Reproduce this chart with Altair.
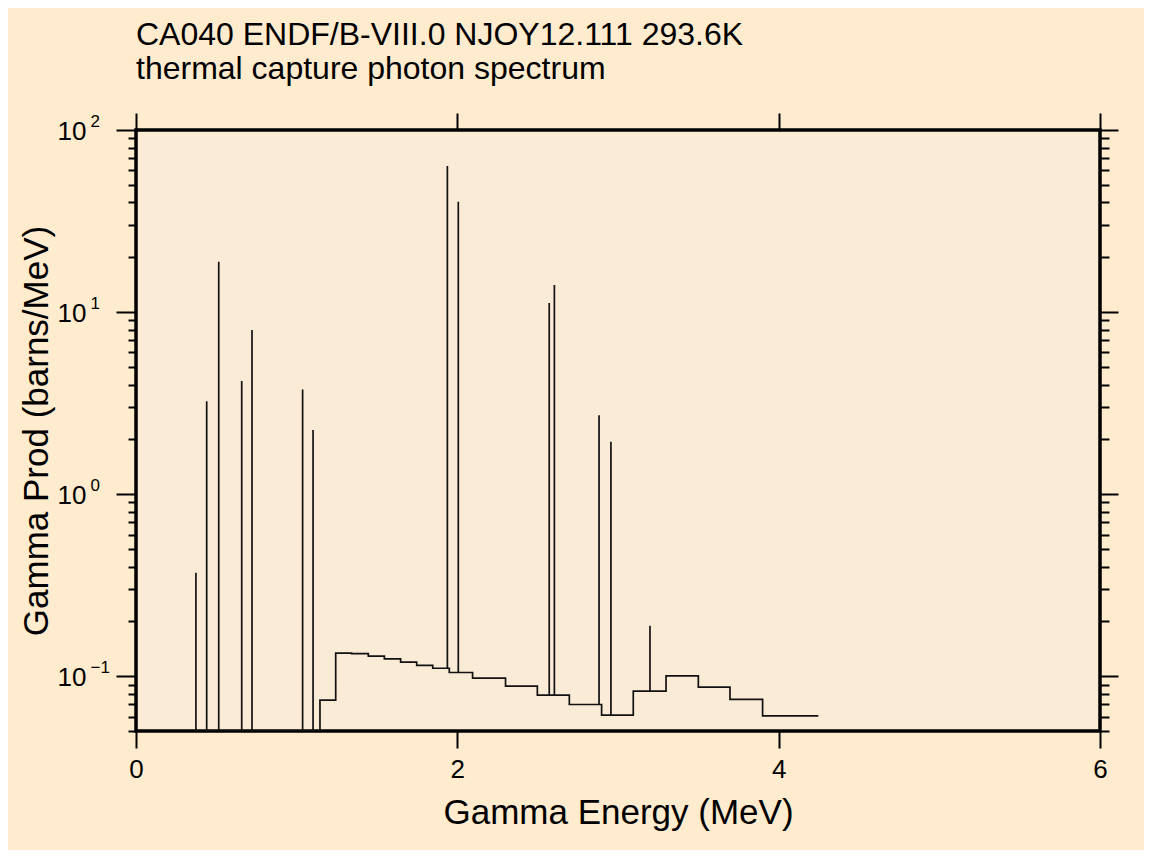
import altair as alt
import pandas as pd
import numpy as np

# discrete gamma lines: energy (MeV) and peak height (barns/MeV)
peak_E = [0.373, 0.440, 0.515, 0.658, 0.722, 1.037, 1.102, 1.938, 2.006,
          2.572, 2.604, 2.882, 2.956, 3.199]
peak_top = [0.37, 3.24, 18.9, 4.18, 7.96, 3.76, 2.25, 63.4, 40.4,
            11.2, 14.1, 2.71, 1.94, 0.189]

# continuum histogram: left edge energy and level (step-after)
cont_E = [0.373, 1.145, 1.243, 1.342, 1.446, 1.546, 1.647, 1.747, 1.847,
          1.950, 2.095, 2.300, 2.498, 2.697, 2.898, 3.095, 3.299, 3.500,
          3.697, 3.900, 4.247]
cont_val = [0.05, 0.0738, 0.134, 0.133, 0.129, 0.1245, 0.1194, 0.1148,
            0.1106, 0.1048, 0.0975, 0.0881, 0.0787, 0.0699, 0.0611, 0.0827,
            0.1004, 0.0870, 0.0745, 0.0605, 0.0605]

x_ticks = [0, 2, 4, 6]
y_major = [0.1, 1, 10, 100]
y_minor = [0.05, 0.06, 0.07, 0.08, 0.09,
           0.2, 0.3, 0.4, 0.5, 0.6, 0.7, 0.8, 0.9,
           2, 3, 4, 5, 6, 7, 8, 9,
           20, 30, 40, 50, 60, 70, 80, 90]

title_lines = ["CA040 ENDF/B-VIII.0 NJOY12.111 293.6K",
               "thermal capture photon spectrum"]

FONT = "Liberation Sans"

cont = pd.DataFrame({"E": cont_E, "v": cont_val})
idx = np.searchsorted(np.array(cont_E), np.array(peak_E), side="right") - 1
peak_base = [cont_val[max(i, 0)] for i in idx]
peaks = pd.DataFrame({"E": peak_E, "top": peak_top, "base": peak_base})

xs = alt.Scale(domain=[0, 6], nice=False, zero=False)
ys = alt.Scale(type="log", domain=[0.05, 100], nice=False)

common_axis = dict(grid=False, domain=False, tickColor="black",
                   labelColor="black", titleColor="black",
                   labelFont=FONT, titleFont=FONT)

# layer 1: peaks, bottom x axis (labels + title), left y axis "10" labels
peaks_layer = alt.Chart(peaks).mark_rule(color="#111111", strokeWidth=1.7).encode(
    x=alt.X("E:Q", scale=xs, axis=alt.Axis(
        orient="bottom", values=x_ticks, tickSize=17, tickWidth=2,
        labelFontSize=26, labelPadding=29, labelBaseline="alphabetic",
        labelFlush=False, format="d",
        title="Gamma Energy (MeV)", titleFontSize=35, titleFontWeight="normal",
        titleX=482, titleY=92, titleBaseline="alphabetic", titleAlign="center",
        **common_axis)),
    y=alt.Y("base:Q", scale=ys, axis=alt.Axis(
        orient="left", values=y_major, tickSize=20, tickWidth=2,
        labelExpr="'10'", labelFontSize=26, labelPadding=30,
        labelBaseline="middle", labelOffset=1, labelAlign="right", labelFlush=False,
        title="Gamma Prod (barns/MeV)", titleFontSize=35, titleFontWeight="normal",
        titleAngle=270, titleX=-100, titleY=300.5, titleBaseline="middle",
        titleAlign="center",
        **common_axis)),
    y2="top:Q",
)

# layer 2: continuum step line, top x ticks, right y major ticks
cont_layer = alt.Chart(cont).mark_line(
    interpolate="step-after", color="#111111", strokeWidth=1.7, clip=True
).encode(
    x=alt.X("E:Q", scale=xs, axis=alt.Axis(
        orient="top", values=x_ticks, tickSize=17, tickWidth=2,
        labels=False, title=None, **common_axis)),
    y=alt.Y("v:Q", scale=ys, axis=alt.Axis(
        orient="right", values=y_major, tickSize=18, tickWidth=2,
        labels=False, title=None, **common_axis)),
)

# layer 3: exponent labels on the left
exp_layer = alt.Chart(cont).mark_point(opacity=0).encode(
    x=alt.X("E:Q", scale=xs, axis=None),
    y=alt.Y("v:Q", scale=ys, axis=alt.Axis(
        orient="left", values=y_major, ticks=False,
        labelExpr="format(round(log(datum.value)/LN10), 'd')",
        labelFontSize=17, labelPadding=46, labelAlign="left",
        labelBaseline="alphabetic", labelOffset=-4, labelFlush=False,
        title=None, **common_axis)),
)

# layer 4: left minor ticks
minor_left = alt.Chart(cont).mark_point(opacity=0).encode(
    x=alt.X("E:Q", scale=xs, axis=None),
    y=alt.Y("v:Q", scale=ys, axis=alt.Axis(
        orient="left", values=y_minor, tickSize=8, tickWidth=2,
        labels=False, title=None, **common_axis)),
)

# layer 5: right minor ticks
minor_right = alt.Chart(cont).mark_point(opacity=0).encode(
    x=alt.X("E:Q", scale=xs, axis=None),
    y=alt.Y("v:Q", scale=ys, axis=alt.Axis(
        orient="right", values=y_minor, tickSize=9, tickWidth=2,
        labels=False, title=None, **common_axis)),
)

chart = alt.layer(
    peaks_layer, cont_layer, exp_layer, minor_left, minor_right
).resolve_axis(x="independent", y="independent").properties(
    width=964, height=601,
    autosize=alt.AutoSizeParams(type="none"),
    padding={"left": 128, "top": 122, "right": 44, "bottom": 119},
    background="#FFEBCD",
    title=alt.TitleParams(
        text=title_lines, anchor="start", frame="group", fontSize=32,
        font=FONT, fontWeight="normal", color="black", lineHeight=34,
        offset=0, dy=6, baseline="bottom"),
).configure_view(
    fill="#FAEBD7", stroke="black", strokeWidth=3.5
)

chart.save("out.html", embed_options={"renderer": "svg", "actions": False})
